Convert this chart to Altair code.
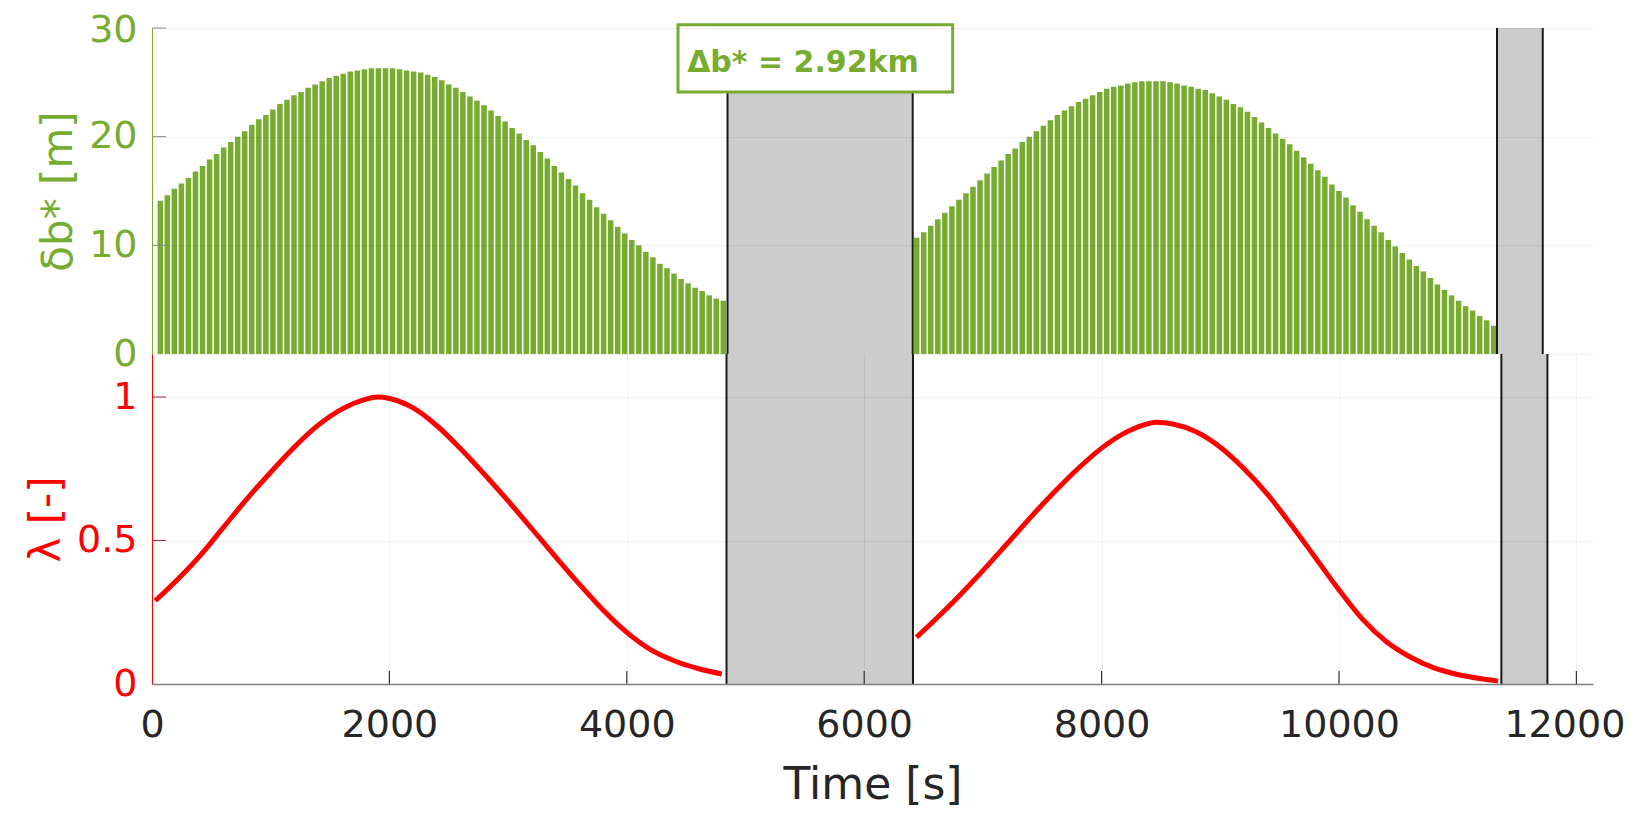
import altair as alt
import pandas as pd

# ---------------- data ----------------
# bar series: one bar per ~60 s time step
BAR1_START = 28.0
BAR2_START = 6445.0
BAR_STEP = 59.7
bar1_vals = [14.1, 14.6, 15.2, 15.7, 16.2, 16.8, 17.3, 17.9, 18.4, 19.0,
             19.5, 20.0, 20.5, 21.1, 21.6, 22.0, 22.5, 23.0, 23.4, 23.8,
             24.1, 24.5, 24.8, 25.1, 25.4, 25.6, 25.8, 26.0, 26.1, 26.2,
             26.3, 26.3, 26.3, 26.3, 26.2, 26.1, 26.0, 25.9, 25.7, 25.5,
             25.2, 24.8, 24.5, 24.1, 23.7, 23.3, 22.9, 22.4, 21.9, 21.4,
             20.8, 20.3, 19.7, 19.2, 18.6, 18.0, 17.3, 16.7, 16.1, 15.5,
             14.8, 14.2, 13.5, 12.9, 12.3, 11.7, 11.1, 10.5, 10.0, 9.4,
             8.9, 8.3, 7.9, 7.4, 6.9, 6.5, 6.1, 5.8, 5.4, 5.1, 4.9]
bar2_vals = [10.7, 11.2, 11.8, 12.4, 13.0, 13.6, 14.2, 14.8, 15.4, 16.0,
             16.6, 17.2, 17.8, 18.4, 18.9, 19.5, 20.0, 20.5, 21.0, 21.5,
             22.0, 22.4, 22.8, 23.2, 23.5, 23.8, 24.1, 24.4, 24.6, 24.7,
             24.9, 25.0, 25.1, 25.1, 25.1, 25.1, 25.0, 24.9, 24.7, 24.6,
             24.4, 24.3, 24.0, 23.7, 23.4, 23.0, 22.7, 22.3, 21.8, 21.3,
             20.8, 20.3, 19.8, 19.3, 18.7, 18.1, 17.5, 16.9, 16.3, 15.6,
             15.0, 14.4, 13.7, 13.1, 12.4, 11.8, 11.2, 10.5, 9.9, 9.3,
             8.7, 8.1, 7.6, 7.0, 6.4, 5.9, 5.4, 4.9, 4.4, 4.0, 3.5, 3.1, 2.6]

lam1_t = [28, 200, 400, 600, 800, 1000, 1200, 1400, 1600, 1800, 1900, 2000,
          2200, 2400, 2600, 2800, 3000, 3200, 3400, 3600, 3800, 4000, 4200,
          4400, 4600, 4800]
lam1_v = [0.29, 0.358, 0.445, 0.545, 0.645, 0.738, 0.826, 0.902, 0.958, 0.992,
          1.0, 0.995, 0.962, 0.9, 0.82, 0.731, 0.638, 0.541, 0.443, 0.348,
          0.258, 0.18, 0.12, 0.081, 0.054, 0.035]
lam2_t = [6440, 6600, 6800, 7000, 7200, 7400, 7600, 7800, 8000, 8200, 8400,
          8460, 8600, 8800, 9000, 9200, 9400, 9600, 9800, 10000, 10200,
          10400, 10600, 10800, 11000, 11200, 11340]
lam2_v = [0.163, 0.225, 0.307, 0.395, 0.487, 0.58, 0.668, 0.75, 0.822, 0.876,
          0.908, 0.912, 0.906, 0.878, 0.825, 0.75, 0.66, 0.553, 0.441, 0.328,
          0.225, 0.147, 0.094, 0.056, 0.033, 0.018, 0.01]

gap_start = [4840, 11368]
gap_end = [6411, 11756]

x_ticks = [0, 2000, 4000, 6000, 8000, 10000, 12000]
db_ticks = [0, 10, 20, 30]
lam_ticks = [0, 0.5, 1]

annot_text = "Δb* = 2.92km"
annot_box = {"x0": 4420, "x1": 6750, "y0": 24.1, "y1": 30.3}
annot_pos = {"x": 5480, "y": 26.8}

# ---------------- styling ----------------
GREEN = "#77AC30"
RED = "#FF0000"
GRAY = "#CCCCCC"
EDGE = "#1a1a1a"
FONT = "DejaVu Sans"
X_DOMAIN = [0, 12140]
DB_DOMAIN = [0, 30]
LAM_DOMAIN = [0, 1.15]
W = 1441
H1 = 326
H2 = 330

# ---------------- tables ----------------
bars = pd.DataFrame({
    "t": [BAR1_START + BAR_STEP * i for i in range(len(bar1_vals))]
    + [BAR2_START + BAR_STEP * i for i in range(len(bar2_vals))],
    "v": bar1_vals + bar2_vals,
})
lam = pd.DataFrame({
    "t": lam1_t + lam2_t,
    "v": lam1_v + lam2_v,
    "seg": ["a"] * len(lam1_t) + ["b"] * len(lam2_t),
})
gaps = pd.DataFrame({"s": gap_start, "e": gap_end})
edges = pd.DataFrame({"t": gap_start + gap_end})
db_tick_df = pd.DataFrame({"v": db_ticks[1:]})
lam_tick_df = pd.DataFrame({"v": lam_ticks[1:]})
x_tick_df = pd.DataFrame({"v": x_ticks[1:]})
box_df = pd.DataFrame([annot_box])
txt_df = pd.DataFrame([{**annot_pos, "label": annot_text}])

xs = alt.Scale(domain=X_DOMAIN, nice=False, zero=False)
ys_top = alt.Scale(domain=DB_DOMAIN, nice=False)
ys_bot = alt.Scale(domain=LAM_DOMAIN, nice=False)

# ---------------- top panel ----------------
top_axis = alt.Axis(
    values=db_ticks, title="δb* [m]", titleColor=GREEN, titleFontSize=42,
    titleFontWeight="normal", titlePadding=8, labelColor=GREEN,
    labelFontSize=38, labelPadding=15, labelFlush=False, ticks=False,
    labelOffset={"condition": {"test": "datum.value == 30", "value": 2},
                 "value": 0},
    domainColor=GREEN, domainWidth=1, grid=True, gridColor="#000000",
    gridOpacity=0.06, zindex=1,
)

bar_layer = alt.Chart(bars).mark_bar(size=5.5, color=GREEN).encode(
    x=alt.X("t:Q", scale=xs, axis=None),
    y=alt.Y("v:Q", scale=ys_top, axis=top_axis),
    y2=alt.datum(0),
)
gap_top = alt.Chart(gaps).mark_rect(color=GRAY).encode(
    x="s:Q", x2="e:Q", y=alt.datum(0), y2=alt.datum(30)
)
edge_top = alt.Chart(edges).mark_rule(color=EDGE, strokeWidth=2).encode(
    x="t:Q", y=alt.datum(0), y2=alt.datum(30)
)
tick_top = alt.Chart(db_tick_df).mark_rule(color="#8a8a8a", strokeWidth=1).encode(
    x=alt.value(0), x2=alt.value(14), y="v:Q"
)
box = alt.Chart(box_df).mark_rect(fill="white", stroke=GREEN, strokeWidth=3).encode(
    x="x0:Q", x2="x1:Q", y="y0:Q", y2="y1:Q"
)
txt = alt.Chart(txt_df).mark_text(
    color=GREEN, fontSize=30, fontWeight="bold", font=FONT,
    align="center", baseline="middle"
).encode(x="x:Q", y="y:Q", text="label:N")

top = alt.layer(bar_layer, gap_top, edge_top, tick_top, box, txt).properties(
    width=W, height=H1
)

# ---------------- bottom panel ----------------
x_axis = alt.Axis(
    values=x_ticks, format="d", title="Time [s]", titleColor="#262626",
    titleFontSize=44, titleFontWeight="normal", titlePadding=19,
    labelColor="#262626", labelFontSize=38, labelPadding=22, labelFlush=False,
    labelOverlap=False, ticks=False, domainColor="#808080", domainWidth=1.5,
    labelOffset={"condition": {"test": "datum.value == 12000", "value": -12},
                 "value": 0},
    grid=True, gridColor="#000000", gridOpacity=0.06, zindex=1,
)
bot_axis = alt.Axis(
    values=lam_ticks, format="~g", title="λ [-]", titleColor=RED,
    titleFontSize=42, titleFontWeight="normal", titlePadding=8,
    labelColor=RED, labelFontSize=38, labelPadding=15, labelFlush=False,
    ticks=False, domainColor=RED, domainWidth=1, grid=True,
    gridColor="#000000", gridOpacity=0.06, zindex=1,
)

gap_bot = alt.Chart(gaps).mark_rect(color=GRAY).encode(
    x=alt.X("s:Q", scale=xs, axis=x_axis), x2="e:Q",
    y=alt.Y("lo:Q", scale=ys_bot, axis=bot_axis), y2="hi:Q",
).transform_calculate(lo="0", hi=str(LAM_DOMAIN[1]))
edge_bot = alt.Chart(edges).mark_rule(color=EDGE, strokeWidth=2).encode(
    x="t:Q", y=alt.datum(0), y2=alt.datum(LAM_DOMAIN[1])
)
line = alt.Chart(lam).mark_line(
    color=RED, strokeWidth=5, interpolate="monotone"
).encode(x="t:Q", y="v:Q", detail="seg:N")
tick_bot_y = alt.Chart(lam_tick_df).mark_rule(color="#8c3030", strokeWidth=1).encode(
    x=alt.value(0), x2=alt.value(14), y="v:Q"
)
tick_bot_x = alt.Chart(x_tick_df).mark_rule(color="#333333", strokeWidth=1.2).encode(
    x="v:Q", y=alt.value(H2 - 13), y2=alt.value(H2)
)

bottom = alt.layer(gap_bot, edge_bot, line, tick_bot_y, tick_bot_x).properties(
    width=W, height=H2
)

chart = alt.vconcat(top, bottom, spacing=0, bounds="flush").properties(
    padding={"left": 17, "top": 3, "right": 2, "bottom": 3}
).configure(font=FONT).configure_view(stroke=None)

chart.save("out.html", embed_options={"renderer": "svg", "actions": False})
